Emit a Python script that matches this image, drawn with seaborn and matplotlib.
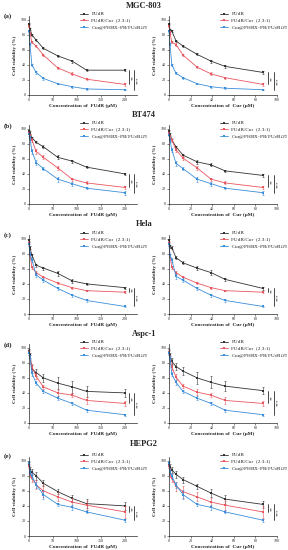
import numpy as np
import pandas as pd
import matplotlib.pyplot as plt
import seaborn as sns

sns.set_style("ticks")
plt.rcParams['font.family'] = ['Liberation Serif', 'DejaVu Serif']
plt.rcParams['mathtext.fontset'] = 'stix'

# Doses
x_fudr = [0, 2, 6, 15, 30, 60, 90, 120, 200]
x_cur = [0, 0.9, 2.6, 6.5, 13, 26, 39, 52, 87]

cell_lines = ["MGC-803", "BT474", "Hela", "Aspc-1", "HEPG2"]
row_tags = ["(a)", "(b)", "(c)", "(d)", "(e)"]
series_names = ["FUdR", "FUdR/Cur  (2.3:1)", "Cur@PHBX-PR/FUdR$_{LPS}$"]
colors = ["#333333", "#E8565E", "#3B8EDB"]

# Cell viability (%) - left panel (vs FUdR) and right panel (vs Cur)
a_left_fudr = [95, 88, 80, 73, 62, 52, 45, 33, 33]
a_left_mix = [92, 82, 70, 65, 53, 36, 28, 21, 14]
a_left_nano = [85, 68, 40, 30, 22, 15, 11, 8, 7]
a_right_fudr = [95, 87, 85, 72, 65, 54, 45, 38, 30]
a_right_mix = [92, 83, 70, 67, 53, 37, 28, 23, 14]
a_right_nano = [85, 68, 40, 29, 23, 15, 11, 9, 7]

b_left_fudr = [97, 95, 88, 82, 76, 62, 57, 49, 40]
b_left_mix = [95, 90, 85, 70, 62, 48, 33, 28, 22]
b_left_nano = [93, 88, 70, 55, 47, 33, 27, 21, 15]
b_right_fudr = [97, 93, 85, 76, 65, 56, 52, 44, 38]
b_right_mix = [95, 89, 85, 72, 61, 48, 33, 28, 22]
b_right_nano = [92, 85, 72, 54, 47, 33, 27, 21, 15]

c_left_fudr = [98, 88, 78, 65, 61, 54, 44, 40, 35]
c_left_mix = [95, 80, 62, 55, 49, 41, 35, 31, 29]
c_left_nano = [93, 80, 72, 52, 45, 34, 25, 18, 10]
c_right_fudr = [98, 90, 88, 75, 68, 61, 55, 46, 34]
c_right_mix = [95, 78, 62, 55, 49, 41, 35, 31, 29]
c_right_nano = [93, 78, 72, 50, 45, 34, 25, 18, 10]

d_left_fudr = [96, 90, 72, 67, 60, 53, 48, 42, 40]
d_left_mix = [94, 87, 75, 62, 48, 40, 37, 30, 26]
d_left_nano = [93, 88, 66, 53, 42, 33, 26, 17, 11]
d_right_fudr = [95, 90, 82, 75, 69, 60, 54, 49, 43]
d_right_mix = [94, 87, 75, 61, 49, 41, 37, 30, 26]
d_right_nano = [93, 86, 65, 54, 42, 33, 26, 17, 11]

e_left_fudr = [96, 88, 85, 80, 70, 59, 50, 43, 40]
e_left_mix = [93, 82, 77, 68, 60, 52, 45, 41, 32]
e_left_nano = [97, 85, 80, 68, 55, 42, 38, 32, 21]
e_right_fudr = [96, 92, 88, 82, 75, 66, 57, 49, 42]
e_right_mix = [93, 82, 77, 66, 59, 52, 45, 41, 32]
e_right_nano = [97, 85, 80, 68, 55, 42, 38, 32, 21]

# Error bars (SD), shared by both panels of a row
a_err_fudr = [1, 1, 1, 1.5, 1.5, 1.5, 2, 1.5, 1.5]
a_err_mix = [1, 1.5, 1.5, 1.5, 1.5, 1.5, 2, 1.5, 1.5]
a_err_nano = [1, 1.5, 1.5, 1.5, 1.5, 1, 1.5, 1, 1]
b_err_fudr = [2, 2, 1.5, 1.5, 2, 2.5, 2, 1.5, 1.5]
b_err_mix = [2, 3, 3, 3, 2.5, 2.5, 2, 2, 2.5]
b_err_nano = [2, 2.5, 3, 3, 2, 3.5, 2.5, 1.5, 2.5]
c_err_fudr = [2, 2, 2, 2, 2, 3, 3, 1.5, 1.5]
c_err_mix = [2, 2, 2, 2, 2, 1.5, 1.5, 1, 1.5]
c_err_nano = [2, 2, 3, 3, 2.5, 2, 2, 2.5, 1]
d_err_fudr = [3, 3, 5, 5, 5, 8, 8, 7, 5]
d_err_mix = [3, 3, 4, 4, 3, 4, 3, 5, 3]
d_err_nano = [3, 3, 3, 3, 2, 3, 2, 2, 1.5]
e_err_fudr = [3, 4, 4, 5, 4, 3, 5, 6, 5]
e_err_mix = [3, 4, 5, 6, 8, 6, 6, 6, 8]
e_err_nano = [3, 3, 4, 4, 6, 2, 3, 2, 2]

left_data = [
    [a_left_fudr, a_left_mix, a_left_nano],
    [b_left_fudr, b_left_mix, b_left_nano],
    [c_left_fudr, c_left_mix, c_left_nano],
    [d_left_fudr, d_left_mix, d_left_nano],
    [e_left_fudr, e_left_mix, e_left_nano],
]
right_data = [
    [a_right_fudr, a_right_mix, a_right_nano],
    [b_right_fudr, b_right_mix, b_right_nano],
    [c_right_fudr, c_right_mix, c_right_nano],
    [d_right_fudr, d_right_mix, d_right_nano],
    [e_right_fudr, e_right_mix, e_right_nano],
]
err_data = [
    [a_err_fudr, a_err_mix, a_err_nano],
    [b_err_fudr, b_err_mix, b_err_nano],
    [c_err_fudr, c_err_mix, c_err_nano],
    [d_err_fudr, d_err_mix, d_err_nano],
    [e_err_fudr, e_err_mix, e_err_nano],
]

W, H = 288, 550
fig = plt.figure(figsize=(W / 100, H / 100), dpi=100)

# pixel positions of each row (y of value 0) and titles
row_bottom = [95, 204, 314, 423, 536]
title_y = [6, 115, 224, 334, 444]
tag_y = [16, 126, 235, 345, 456]
ax_h = 79
ax_w = 108
col_left = [29, 169]


def draw_panel(ax, x, ys, errs, xlim, xticks, xlabel, brackets_x):
    for name, y, e, c in zip(series_names, ys, errs, colors):
        df = pd.DataFrame({"x": x, "y": y})
        sns.lineplot(data=df, x="x", y="y", ax=ax, color=c, marker="s",
                     markersize=1.6, markeredgewidth=0, linewidth=0.6,
                     label=name, clip_on=False)
        ax.errorbar(x, y, yerr=e, fmt="none", ecolor=c, elinewidth=0.4,
                    capsize=0.8, capthick=0.4, clip_on=False)
    ax.set_xlim(*xlim)
    ax.set_ylim(0, 105)
    ax.set_xticks(xticks)
    ax.set_yticks([0, 20, 40, 60, 80, 100])
    ax.tick_params(labelsize=3, length=1.2, width=0.4, pad=0.8)
    for sp in ax.spines.values():
        sp.set_linewidth(0.5)
    sns.despine(ax=ax)
    ax.set_xlabel(xlabel, fontsize=3.8, fontweight="bold", labelpad=1.5)
    ax.set_ylabel("Cell viability (%)", fontsize=3.8, fontweight="bold", labelpad=2)
    ax.legend(loc="upper left", bbox_to_anchor=(0.45, 1.08), frameon=False,
              fontsize=3.8, handlelength=1.6, labelspacing=0.25,
              borderaxespad=0, handletextpad=0.6)
    # significance brackets
    yb, yr, yn = ys[0][-1], ys[1][-1], ys[2][-1]
    for bx, ylo, lab in [(brackets_x[0], yr, "**"), (brackets_x[1], yn, "***")]:
        ax.plot([bx, bx], [ylo, yb], color="black", lw=0.5, clip_on=False)
        ax.text(bx + (xlim[1] - xlim[0]) * 0.02, (ylo + yb) / 2, lab,
                rotation=90, fontsize=3.5, ha="left", va="center")


for r in range(5):
    bottom = 1 - row_bottom[r] / H
    axl = fig.add_axes([col_left[0] / W, bottom, ax_w / W, ax_h / H])
    axr = fig.add_axes([col_left[1] / W, bottom, ax_w / W, ax_h / H])
    draw_panel(axl, x_fudr, left_data[r], err_data[r], (0, 225),
               [0, 50, 100, 150, 200], "Concentration of  FUdR (\u03bcM)", (208, 219))
    draw_panel(axr, x_cur, right_data[r], err_data[r], (0, 100),
               [0, 20, 40, 60, 80, 100], "Concentration of  Cur (\u03bcM)", (92, 97))
    fig.text(0.5, 1 - title_y[r] / H, cell_lines[r], ha="center", va="center",
             fontsize=6, fontweight="bold")
    fig.text(4 / W, 1 - tag_y[r] / H, row_tags[r], ha="left", va="center",
             fontsize=5, fontweight="bold")

fig.savefig("out.png", dpi=100)
